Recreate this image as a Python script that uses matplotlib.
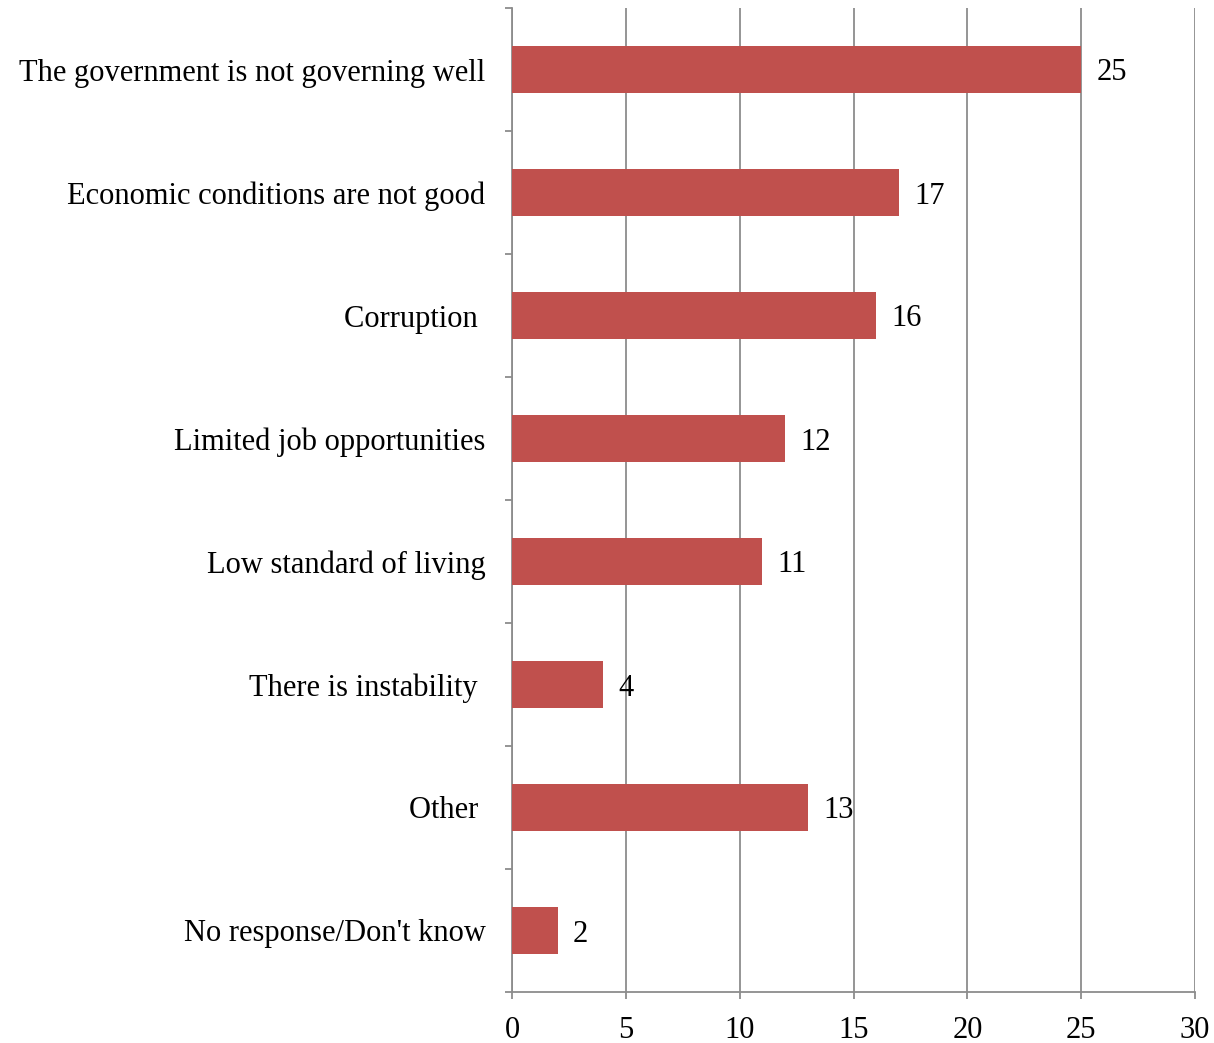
import matplotlib
matplotlib.use("Agg")
import matplotlib.pyplot as plt
import numpy as np

categories = ["The government is not governing well",
              "Economic conditions are not good",
              "Corruption ",
              "Limited job opportunities",
              "Low standard of living",
              "There is instability ",
              "Other ",
              "No response/Don't know"]
values = [25, 17, 16, 12, 11, 4, 13, 2]
xticks = [0, 5, 10, 15, 20, 25, 30]

plt.rcParams['font.family'] = ['Liberation Serif', 'DejaVu Serif']

fig = plt.figure(figsize=(12.14, 10.43), dpi=100)
ax = fig.add_axes([512/1214, 1-992/1043, (1195-512)/1214, (992-8)/1043])

n = len(categories)
y = np.arange(n)
ax.barh(y, values, height=0.39, color="#C0504D", zorder=3)
ax.set_ylim(n - 0.5, -0.5)
ax.set_xlim(0, 30)
ax.set_xticks(xticks)
ax.set_xticklabels([str(t) for t in xticks], fontsize=22)
ax.set_yticks(y)
ax.set_yticklabels(categories, fontsize=22, va="center_baseline")
ax.set_yticks(np.arange(n + 1) - 0.5, minor=True)

gray = "#8c8c8c"
ax.grid(axis="x", color=gray, linewidth=1.3, zorder=0)
for s in ["top", "right"]:
    ax.spines[s].set_visible(False)
for s in ["left", "bottom"]:
    ax.spines[s].set_color(gray)
    ax.spines[s].set_linewidth(1.3)
ax.tick_params(axis="y", which="major", length=0, pad=19)
ax.tick_params(axis="y", which="minor", length=5, color=gray, width=1.3)
ax.tick_params(axis="x", which="major", length=5, color=gray, width=1.3, pad=12)

for yi, v in zip(y, values):
    ax.annotate(str(v), (v, yi), xytext=(11, 0), textcoords="offset points",
                va="center_baseline", ha="left", fontsize=22, zorder=5)

fig.savefig("out.png", dpi=100)
